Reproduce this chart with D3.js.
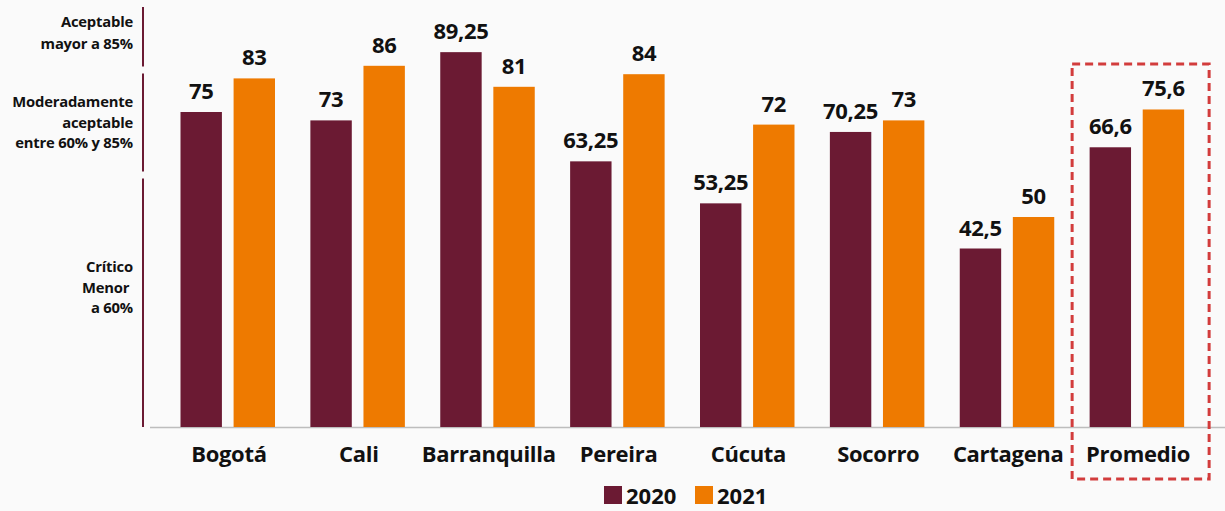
<!DOCTYPE html>
<html><head><meta charset="utf-8">
<script src="https://cdn.jsdelivr.net/npm/d3@7"></script>
<style>
html,body{margin:0;padding:0;background:#fafafa;}
svg{display:block;font-family:"Open Sans",sans-serif;}
</style></head>
<body>
<svg id="chart" width="1225" height="511"></svg>
<script>
const categories = ["Bogotá","Cali","Barranquilla","Pereira","Cúcuta","Socorro","Cartagena","Promedio"];
const series = ["2020","2021"];
const values2020 = [75, 73, 89.25, 63.25, 53.25, 70.25, 42.5, 66.6];
const values2021 = [83, 86, 81, 84, 72, 73, 50, 75.6];
const colors = ["#6b1a33", "#ee7a00"];
const zoneBounds = [[85, 100], [60, 85], [0, 60]];
const zoneLabels = [["Aceptable","mayor a 85%"], ["Moderadamente","aceptable","entre 60% y 85%"], ["Crítico","Menor ","a 60%"]];
const highlight = "Promedio";

const svg = d3.select("#chart");
const W = 1225, H = 511;
svg.append("rect").attr("width", W).attr("height", H).attr("fill", "#fafafa");

const y = d3.scaleLinear().domain([0, 100]).range([427, 7]);
const x0 = d3.scaleBand().domain(categories).range([163, 1202]).paddingInner(0).paddingOuter(0);
const x1 = d3.scaleBand().domain(series).range([17.5, 112]).paddingInner(0.22);
const fmt = v => String(v).replace(".", ",");

// zone brackets
const zg = svg.append("g");
const labelShift = [-4, 0, -15];
const lineHeights = [22, 20.5, 20.5];
zoneBounds.forEach(([from, to], i) => {
  const top = y(to) + (i === 0 ? 0 : 3.5);
  const bot = y(from) - (i === zoneBounds.length - 1 ? 0 : 3.5);
  zg.append("line").attr("x1", 143).attr("x2", 143).attr("y1", top).attr("y2", bot)
    .attr("stroke", "#6b1a33").attr("stroke-width", 2);
  const mid = (top + bot) / 2 + labelShift[i];
  const lh = lineHeights[i];
  const lines = zoneLabels[i];
  const n = lines.length;
  const t = zg.append("text").attr("text-anchor", "end").attr("font-size", 14.8)
    .attr("font-weight", 700).attr("fill", "#111").style("white-space", "pre")
    .attr("letter-spacing", -0.2);
  lines.forEach((l, j) => {
    t.append("tspan").attr("x", 133).attr("y", mid - (n - 1) * lh / 2 + j * lh + 5).text(l);
  });
});

// baseline
svg.append("line").attr("x1", 150).attr("x2", 1225).attr("y1", y(0) + 0.5).attr("y2", y(0) + 0.5)
  .attr("stroke", "#bdbdbd").attr("stroke-width", 1.5);

const data = categories.map((c, i) => ({cat: c, vals: [values2020[i], values2021[i]]}));
const groups = svg.append("g").selectAll("g").data(data).join("g")
  .attr("transform", d => `translate(${x0(d.cat)},0)`);
groups.selectAll("rect").data(d => d.vals.map((v, k) => ({s: series[k], v, k})))
  .join("rect")
  .attr("x", d => x1(d.s)).attr("width", x1.bandwidth())
  .attr("y", d => y(d.v)).attr("height", d => y(0) - y(d.v))
  .attr("fill", d => colors[d.k]);
groups.selectAll("text.val").data(d => d.vals.map((v, k) => ({s: series[k], v, k})))
  .join("text").attr("class", "val")
  .attr("x", d => x1(d.s) + x1.bandwidth() / 2).attr("y", d => y(d.v) - 13)
  .attr("text-anchor", "middle").attr("font-size", 22).attr("font-weight", 700).attr("fill", "#111")
  .attr("letter-spacing", -0.3)
  .text(d => fmt(d.v));

// category labels
svg.append("g").selectAll("text").data(categories).join("text")
  .attr("x", d => x0(d) + x0.bandwidth() / 2 + 1).attr("y", 462)
  .attr("text-anchor", "middle").attr("font-size", 22).attr("font-weight", 700).attr("fill", "#111")
  .attr("letter-spacing", -0.3)
  .text(d => d);

// highlight box
const hx = x0(highlight);
svg.append("rect").attr("x", hx).attr("y", 64).attr("width", 137).attr("height", 415)
  .attr("fill", "none").attr("stroke", "#d23c3c").attr("stroke-width", 3)
  .attr("stroke-dasharray", "8,5");

// legend
const lg = svg.append("g");
const legX = [604, 695];
series.forEach((s, k) => {
  lg.append("rect").attr("x", legX[k]).attr("y", 486).attr("width", 18).attr("height", 18).attr("fill", colors[k]);
  lg.append("text").attr("x", legX[k] + 22).attr("y", 504).attr("font-size", 22).attr("font-weight", 700)
    .attr("fill", "#111").text(s);
});
</script>
</body></html>
